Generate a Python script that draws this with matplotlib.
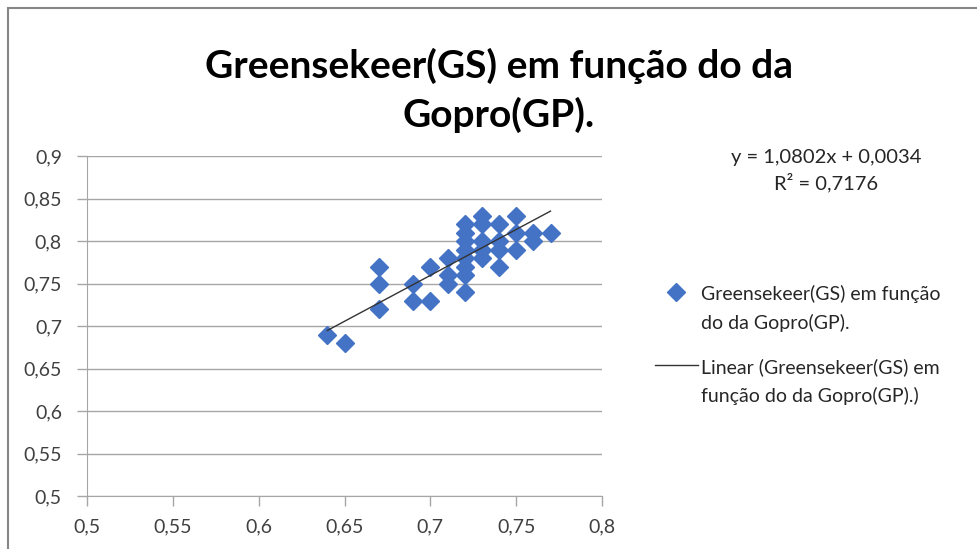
import numpy as np
import matplotlib.pyplot as plt
from matplotlib.patches import Rectangle
from matplotlib.legend_handler import HandlerLine2D

# Gopro (GP) values on x, Greensekeer (GS) on y
gp = [0.64, 0.65, 0.67, 0.67, 0.67, 0.69, 0.69, 0.70, 0.70,
      0.71, 0.71, 0.71,
      0.72, 0.72, 0.72, 0.72, 0.72, 0.72, 0.72, 0.72,
      0.73, 0.73, 0.73, 0.73, 0.73,
      0.74, 0.74, 0.74, 0.74,
      0.75, 0.75, 0.75,
      0.76, 0.76, 0.77]
gs = [0.69, 0.68, 0.77, 0.75, 0.72, 0.75, 0.73, 0.77, 0.73,
      0.78, 0.76, 0.75,
      0.82, 0.81, 0.80, 0.79, 0.78, 0.77, 0.76, 0.74,
      0.83, 0.82, 0.80, 0.79, 0.78,
      0.82, 0.80, 0.79, 0.77,
      0.83, 0.81, 0.79,
      0.81, 0.80, 0.81]

slope = 1.0802
intercept = 0.0034
r2 = 0.7176

ticks = [0.5, 0.55, 0.6, 0.65, 0.7, 0.75, 0.8, 0.85, 0.9]
xticks = ticks[:7]


class FirstLineHandler(HandlerLine2D):
    # Excel lines the legend key up with the first text line
    def create_artists(self, legend, orig_handle, xdescent, ydescent,
                       width, height, fontsize, trans):
        arts = super().create_artists(legend, orig_handle, xdescent, ydescent,
                                      width, height, fontsize, trans)
        for a in arts:
            a.set_ydata(np.asarray(a.get_ydata()) + 0.84 * fontsize)
        return arts


plt.rcParams['font.family'] = ['Lato', 'DejaVu Sans']

fig = plt.figure(figsize=(9.78, 5.49), dpi=100)
fig.patches.append(Rectangle((8 / 978, -0.1), 1.2, 1 - 8 / 549 + 0.1,
                             transform=fig.transFigure, fill=False,
                             edgecolor='#868686', linewidth=1.5))

ax = fig.add_axes([87 / 978, 1 - 496 / 549, 515 / 978, 340 / 549])

ax.plot(gp, gs, linestyle='none', marker='D', markersize=9,
        color='#4472C4', label='Greensekeer(GS) em função\ndo da Gopro(GP).')
xl = np.array([min(gp), max(gp)])
ax.plot(xl, slope * xl + intercept, color='#333333', linewidth=1,
        label='Linear (Greensekeer(GS) em\nfunção do da Gopro(GP).)')

ax.set_xlim(0.5, 0.8)
ax.set_ylim(0.5, 0.9)
ax.set_xticks(xticks)
ax.set_yticks(ticks)
ax.set_xticklabels([f'{t:g}'.replace('.', ',') for t in xticks])
ax.set_yticklabels([f'{t:g}'.replace('.', ',') for t in ticks])
ax.tick_params(labelsize=14, labelcolor='#404040', color='#A6A6A6',
               length=7, width=1)
ax.tick_params(axis='y', pad=11)
ax.tick_params(axis='x', pad=9)
ax.grid(axis='y', color='#A6A6A6', linewidth=1)
ax.set_axisbelow(True)
for s in ['top', 'right']:
    ax.spines[s].set_visible(False)
for s in ['left', 'bottom']:
    ax.spines[s].set_color('#A6A6A6')

fig.text(499 / 978, 1 - 66 / 549, 'Greensekeer(GS) em função do da',
         ha='center', va='center', fontsize=28, fontweight='bold')
fig.text(499 / 978, 1 - 115 / 549, 'Gopro(GP).',
         ha='center', va='center', fontsize=28, fontweight='bold')

eq = f'y = {slope:.4f}x + {intercept:.4f}'.replace('.', ',')
fig.text(826 / 978, 1 - 157 / 549, eq, ha='center', va='center',
         fontsize=14.5, color='#262626')
fig.text(826 / 978, 1 - 183 / 549, f'R² = {r2:.4f}'.replace('.', ','),
         ha='center', va='center', fontsize=14.5, color='#262626')

leg = ax.legend(loc='upper left', bbox_to_anchor=(655 / 978, 1 - 285 / 549),
                bbox_transform=fig.transFigure, frameon=False, fontsize=14,
                handlelength=2.2, labelspacing=1.36, handletextpad=0.15,
                borderpad=0, borderaxespad=0,
                handler_map={plt.Line2D: FirstLineHandler()})
for t in leg.get_texts():
    t.set_linespacing(1.7)
    t.set_color('#262626')

fig.savefig('out.png', dpi=100)
